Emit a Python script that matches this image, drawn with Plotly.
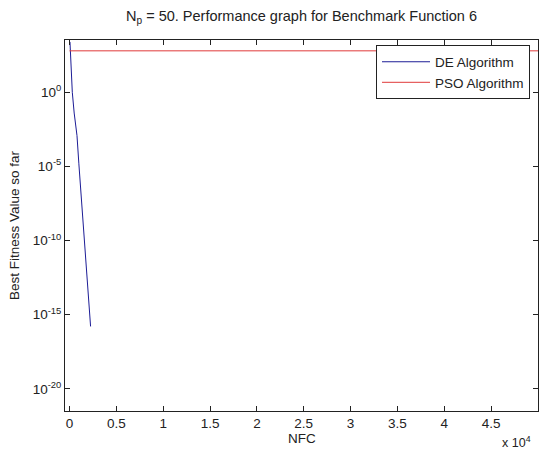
import plotly.graph_objects as go

# ---- data ----
de_nfc = [50, 100, 150, 200, 250, 300, 500, 800, 1000, 1250, 1500, 1700, 1950, 2250]
de_val = [2.5e3, 4.0e2, 6.3e1, 1.0e1, 2.5e0, 1.0e0, 4.0e-2, 1.2e-3, 1.5e-5, 1.0e-7,
          4.5e-10, 5.8e-12, 2.9e-14, 1.6e-16]
pso_nfc = [0, 50000]
pso_val = [6.3e2, 6.3e2]

x_tickvals = [0, 5000, 10000, 15000, 20000, 25000, 30000, 35000, 40000, 45000]
x_ticktext = ["0", "0.5", "1", "1.5", "2", "2.5", "3", "3.5", "4", "4.5"]
y_tickvals = [1e-20, 1e-15, 1e-10, 1e-5, 1e0]
y_ticktext = ["10<sup>-20</sup>", "10<sup>-15</sup>", "10<sup>-10</sup>", "10<sup>-5</sup>", "10<sup>0</sup>"]

FONT = "Liberation Sans, Arial, sans-serif"
TXT = "#222222"

fig = go.Figure()
fig.add_trace(go.Scatter(x=de_nfc, y=de_val, mode="lines", name="DE Algorithm",
                         line=dict(color="#1c1c96", width=1)))
fig.add_trace(go.Scatter(x=pso_nfc, y=pso_val, mode="lines", name="PSO Algorithm",
                         line=dict(color="#e03a3a", width=1)))

W, H = 539, 450
L, R, T, B = 64.5, 1, 39.5, 38.5
PW, PH = W - L - R, H - T - B

fig.update_layout(
    width=W, height=H,
    margin=dict(l=L, r=R, t=T, b=B, pad=0, autoexpand=False),
    paper_bgcolor="white", plot_bgcolor="white",
    font=dict(family=FONT, size=13, color=TXT),
    showlegend=True,
    legend=dict(x=(530 - L) / PW, y=1 - (45 - T) / PH, xanchor="right", yanchor="top",
                bordercolor=TXT, borderwidth=1, bgcolor="white",
                font=dict(family=FONT, size=13.5, color=TXT),
                tracegroupgap=0, itemwidth=48),
    xaxis=dict(range=[-480, 50000], tickvals=x_tickvals, ticktext=x_ticktext,
               ticks="inside", ticklen=5, tickcolor=TXT,
               showline=True, linecolor=TXT, linewidth=1, mirror="ticks",
               showgrid=False, zeroline=False, automargin=False,
               tickfont=dict(family=FONT, size=13.5, color=TXT)),
    yaxis=dict(type="log", range=[-21.5, 3.53], tickvals=y_tickvals, ticktext=y_ticktext,
               ticks="inside", ticklen=5, tickcolor=TXT,
               showline=True, linecolor=TXT, linewidth=1, mirror="ticks",
               showgrid=False, zeroline=False, automargin=False,
               tickfont=dict(family=FONT, size=13.5, color=TXT)),
    annotations=[
        dict(text="N<sub>p</sub> = 50. Performance graph for Benchmark Function 6",
             xref="paper", yref="paper", x=0.5, y=1 + (T - 16) / PH,
             xanchor="center", yanchor="middle", showarrow=False,
             font=dict(family=FONT, size=14.5, color=TXT)),
        dict(text="NFC", xref="paper", yref="paper", x=0.5, y=-(439 - (H - B)) / PH,
             xanchor="center", yanchor="middle", showarrow=False,
             font=dict(family=FONT, size=13.5, color=TXT)),
        dict(text="x 10<sup>4</sup>", xref="paper", yref="paper",
             x=(516 - L) / PW, y=-(443 - (H - B)) / PH,
             xanchor="center", yanchor="middle", showarrow=False,
             font=dict(family=FONT, size=12.5, color=TXT)),
        dict(text="Best Fitness Value so far", xref="paper", yref="paper",
             x=-(L - 14) / PW, y=0.5, textangle=-90,
             xanchor="center", yanchor="middle", showarrow=False,
             font=dict(family=FONT, size=13.5, color=TXT)),
    ],
)

fig.write_html("out.html", config={"displayModeBar": False},
               post_script="document.body.style.margin='0';document.body.style.padding='0';")
